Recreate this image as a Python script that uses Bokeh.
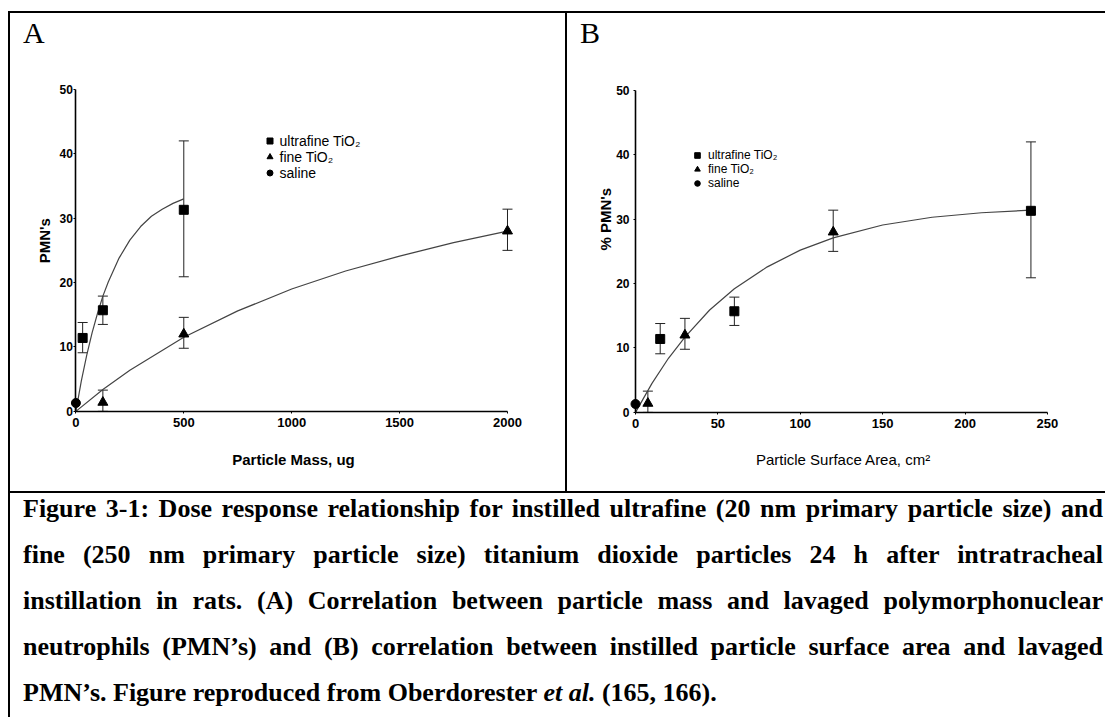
import math
from bokeh.plotting import figure
from bokeh.models import (ColumnDataSource, Whisker, TeeHead, FixedTicker, Legend,
                          LegendItem, Label, Div, Spacer)
from bokeh.layouts import row, column
from bokeh.embed import file_html
from bokeh.resources import INLINE

# ---------------- data ----------------
uf_mass = [31.25, 125, 500]          # ultrafine TiO2, particle mass (ug)
uf_area = [15, 60, 240]              # ultrafine TiO2, surface area (cm2)
uf_pmn = [11.4, 15.7, 31.3]
uf_lo = [9.1, 13.5, 20.9]
uf_hi = [13.8, 17.9, 42.0]

fine_mass = [125, 500, 2000]         # fine TiO2
fine_area = [7.5, 30, 120]
fine_pmn = [1.4, 12.0, 28.0]
fine_lo = [0.0, 9.8, 25.0]
fine_hi = [3.3, 14.6, 31.4]

saline_dose = [0]
saline_pmn = [1.3]

# fitted curves
fitA_uf_mass = [0, 25, 50, 75, 100, 125, 150, 200, 250, 300, 350, 400, 450, 500]
fitA_uf_pmn = [0.0, 4.7, 8.7, 12.2, 15.2, 17.9, 20.1, 23.8, 26.6, 28.7, 30.3, 31.4, 32.3, 33.0]
fitA_fine_mass = [0, 125, 250, 500, 750, 1000, 1250, 1500, 1750, 2000]
fitA_fine_pmn = [0.0, 3.4, 6.4, 11.5, 15.6, 19.0, 21.8, 24.1, 26.2, 28.0]
fitB_area = [0, 10, 20, 30, 45, 60, 80, 100, 120, 150, 180, 210, 240]
fitB_pmn = [0.0, 4.5, 8.4, 11.7, 15.9, 19.2, 22.6, 25.2, 27.1, 29.1, 30.3, 31.0, 31.4]

x_ticks_A = [0, 500, 1000, 1500, 2000]
x_ticks_B = [0, 50, 100, 150, 200, 250]
y_ticks = [0, 10, 20, 30, 40, 50]
legend_labels = ["ultrafine TiO\u2082", "fine TiO\u2082", "saline"]

caption_lines = [
    "Figure 3-1: Dose response relationship for instilled ultrafine (20 nm primary particle size) and",
    "fine (250 nm primary particle size) titanium dioxide particles 24 h after intratracheal",
    "instillation in rats. (A) Correlation between particle mass and lavaged polymorphonuclear",
    "neutrophils (PMN\u2019s) and (B) correlation between instilled particle surface area and lavaged",
    "PMN\u2019s. Figure reproduced from Oberdorester <i>et al.</i> (165, 166).",
]

SANS = "Liberation Sans"
SERIF = "Liberation Serif"
INK = "#222222"


def style_axes(p, x_ticks, x_bounds, ylab_standoff):
    p.xgrid.visible = False
    p.ygrid.visible = False
    xa = p.xaxis[0]
    ya = p.yaxis[0]
    xa.ticker = FixedTicker(ticks=x_ticks)
    xa.bounds = x_bounds
    xa.fixed_location = 0
    ya.ticker = FixedTicker(ticks=y_ticks)
    ya.bounds = (0, 50)
    ya.fixed_location = 0
    for ax in (xa, ya):
        ax.axis_line_color = "black"
        ax.axis_line_width = 1.6
        ax.major_tick_line_color = "black"
        ax.major_tick_in = 0
        ax.major_tick_out = 2
        ax.minor_tick_line_color = None
        ax.major_label_text_font = SANS
        ax.major_label_text_font_style = "bold"
        ax.major_label_text_color = "black"
    xa.major_label_text_font_size = "13px"
    ya.major_label_text_font_size = "12px"
    xa.major_label_standoff = 5
    ya.major_label_standoff = ylab_standoff


def add_series(p, xs_uf, xs_fine, legend_loc, legend_size, row_h, glyph_w, standoff):
    src_uf = ColumnDataSource(dict(x=xs_uf, y=uf_pmn, lo=uf_lo, hi=uf_hi))
    src_fine = ColumnDataSource(dict(x=xs_fine, y=fine_pmn, lo=fine_lo, hi=fine_hi))
    src_sal = ColumnDataSource(dict(x=saline_dose, y=saline_pmn))
    for src in (src_uf, src_fine):
        p.add_layout(Whisker(source=src, base="x", upper="hi", lower="lo",
                             line_color=INK, line_width=1,
                             upper_head=TeeHead(size=10, line_color=INK, line_width=1),
                             lower_head=TeeHead(size=10, line_color=INK, line_width=1)))
    r_uf = p.scatter("x", "y", source=src_uf, marker="square", size=9,
                     fill_color="black", line_color="black")
    r_fine = p.scatter("x", "y", source=src_fine, marker="triangle", size=10,
                       fill_color="black", line_color="black")
    r_sal = p.scatter("x", "y", source=src_sal, marker="circle", size=9,
                      fill_color="black", line_color="black")
    leg = Legend(items=[LegendItem(label=legend_labels[0], renderers=[r_uf]),
                        LegendItem(label=legend_labels[1], renderers=[r_fine]),
                        LegendItem(label=legend_labels[2], renderers=[r_sal])],
                 location=legend_loc, glyph_width=glyph_w, glyph_height=row_h,
                 label_height=row_h, spacing=0, padding=0, margin=0,
                 label_standoff=standoff, border_line_color=None,
                 background_fill_alpha=0, label_text_font=SANS,
                 label_text_font_size=legend_size, label_text_color="black")
    p.add_layout(leg)


def letter_div(letter, width):
    html = ("<div style=\"font-family: 'Liberation Serif'; font-size: 30px; line-height: 30px; "
            "color: black; padding-left: 13px; padding-top: 5px;\">" + letter + "</div>")
    return Div(text=html, width=width, height=40, margin=0)


# ---------------- panel A ----------------
pA = figure(width=555, height=438, x_range=(-187.2, 2129.8), y_range=(-10.58, 52),
            output_backend="svg", toolbar_location=None,
            min_border_left=25, min_border_right=30, min_border_top=23, min_border_bottom=12,
            outline_line_color=None, background_fill_color="white",
            border_fill_color="white", margin=0)
style_axes(pA, x_ticks_A, (0, 2000), 1)
pA.line(fitA_uf_mass, fitA_uf_pmn, line_color="#444444", line_width=1.2)
pA.line(fitA_fine_mass, fitA_fine_pmn, line_color="#444444", line_width=1.2)
add_series(pA, uf_mass, fine_mass, (226.5, 298.5), "14px", 15, 15, 3)
pA.add_layout(Label(x=-146.9, y=26.5, text="PMN's", text_font=SANS, text_font_style="bold",
                    text_font_size="15px", text_color="black", angle=math.pi / 2,
                    text_align="center", text_baseline="middle"))
pA.add_layout(Label(x=1008.3, y=-7.55, text="Particle Mass, ug", text_font=SANS,
                    text_font_style="bold", text_font_size="15px", text_color="black",
                    text_align="center", text_baseline="alphabetic"))

# ---------------- panel B ----------------
pB = figure(width=538, height=438, x_range=(-26.1, 267.05), y_range=(-10.42, 52),
            output_backend="svg", toolbar_location=None,
            min_border_left=25, min_border_right=30, min_border_top=24, min_border_bottom=12,
            outline_line_color=None, background_fill_color="white",
            border_fill_color="white", margin=0)
style_axes(pB, x_ticks_B, (0, 250), 4)
pB.line(fitB_area, fitB_pmn, line_color="#444444", line_width=1.2)
add_series(pB, uf_area, fine_area, (98, 289), "12px", 14, 14, 4)
pB.add_layout(Label(x=-18.2, y=30.0, text="% PMN's", text_font=SANS, text_font_style="bold",
                    text_font_size="15px", text_color="black", angle=math.pi / 2,
                    text_align="center", text_baseline="middle"))
pB.add_layout(Label(x=126.2, y=-7.3, text="Particle Surface Area, cm\u00b2", text_font=SANS,
                    text_font_style="normal", text_font_size="15px", text_color="black",
                    text_align="center", text_baseline="alphabetic"))

# ---------------- frame lines and caption ----------------
def hline(w):
    return Div(text="", width=w, height=2, margin=0,
               styles={"background-color": "black"})


def vline(h):
    return Div(text="", width=2, height=h, margin=0,
               styles={"background-color": "black"})


line_divs = []
for i, ln in enumerate(caption_lines):
    if i < len(caption_lines) - 1:
        align = "text-align: justify; text-align-last: justify;"
    else:
        align = "text-align: left;"
    line_divs.append(f"<div style='{align} width: 1080px; white-space: normal;'>{ln}</div>")
caption_html = ("<div style=\"font-family: 'Liberation Serif'; font-weight: bold; "
                "font-size: 26px; line-height: 46px; color: black; margin-top: -7px; "
                "padding-left: 13px; width: 1080px;\">" + "".join(line_divs) + "</div>")
caption = Div(text=caption_html, width=1095, height=224, margin=0)

layout = column(
    Spacer(width=1105, height=11, margin=0),
    row(Spacer(width=8, height=2, margin=0), hline(1097)),
    row(Spacer(width=8, height=478, margin=0), vline(478),
        column(letter_div("A", 555), pA), vline(478),
        column(letter_div("B", 538), pB)),
    row(Spacer(width=8, height=2, margin=0), hline(1097)),
    row(Spacer(width=8, height=224, margin=0), vline(224), caption),
)

open("out.html", "w").write(file_html(layout, INLINE))
